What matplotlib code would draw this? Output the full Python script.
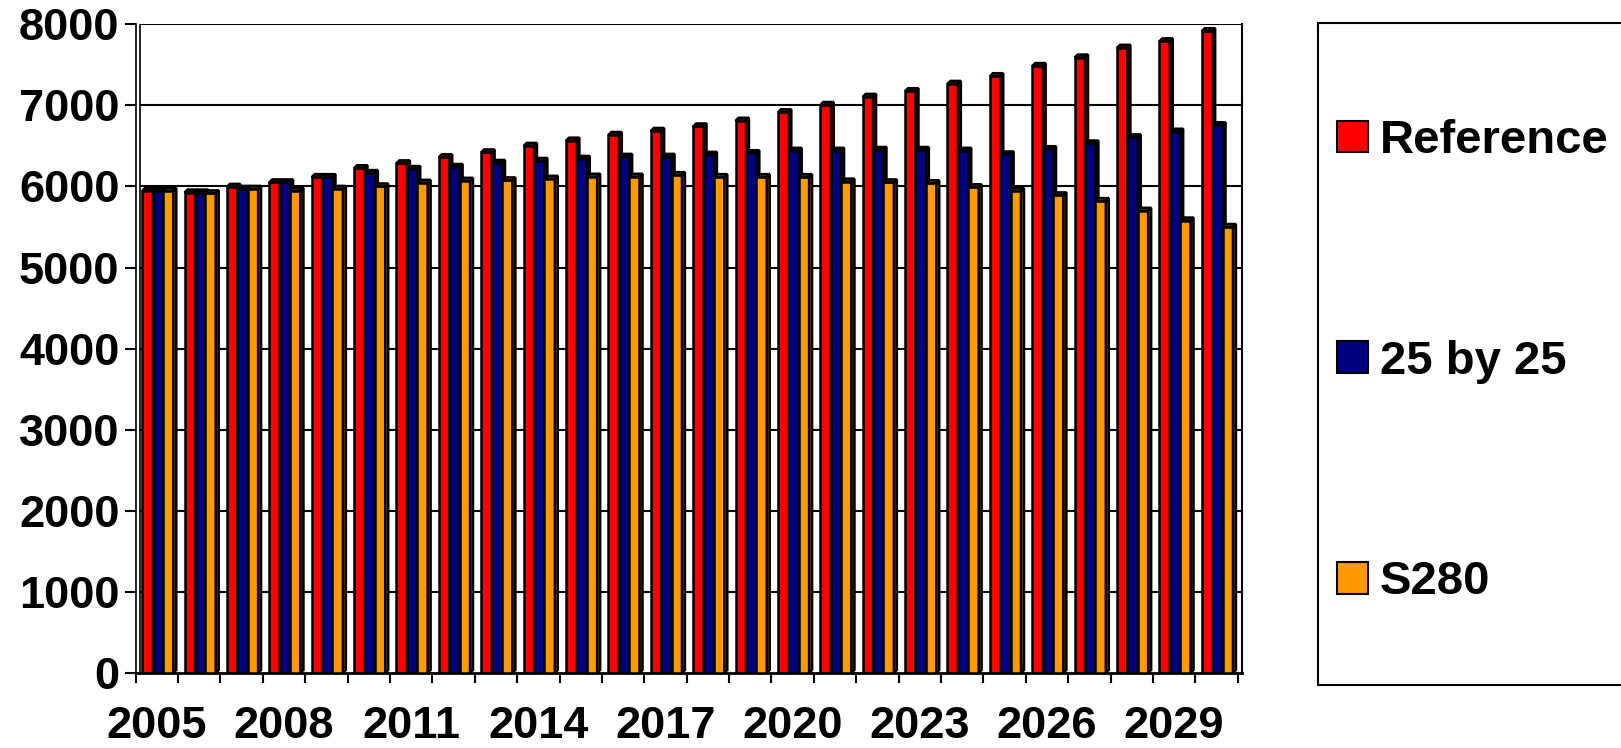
import numpy as np
import matplotlib.pyplot as plt
from matplotlib.patches import Polygon, Patch, Rectangle

plt.rcParams['font.family'] = ['Liberation Sans', 'DejaVu Sans']
plt.rcParams['font.weight'] = 'bold'

years = list(range(2005, 2031))
reference = [5945, 5925, 5995, 6050, 6115, 6225, 6285, 6360, 6420, 6500,
             6565, 6635, 6685, 6740, 6810, 6915, 7005, 7105, 7175, 7265,
             7360, 7485, 7590, 7710, 7790, 7915]
by25 = [5945, 5925, 5970, 6050, 6115, 6165, 6215, 6240, 6290, 6315,
        6340, 6365, 6365, 6390, 6410, 6440, 6440, 6450, 6450, 6440,
        6395, 6460, 6530, 6605, 6675, 6755]
s280 = [5945, 5915, 5970, 5945, 5970, 6000, 6045, 6070, 6075, 6095,
        6120, 6120, 6140, 6115, 6115, 6115, 6060, 6050, 6040, 5990,
        5945, 5890, 5820, 5700, 5580, 5500]
series_names = ['Reference', '25 by 25', 'S280']
front_colors = ['#FF0000', '#000080', '#FF9900']
shade_colors = ['#800000', '#000040', '#804C00']

W, H, DPI = 1621, 748, 100
fig = plt.figure(figsize=(W / DPI, H / DPI), dpi=DPI)

# plot area in pixels (left, bottom of 0 line, right wall, 8000 line)
px_left, px_right, px_zero, px_top = 135.7, 1241.7, 673, 24.3
group_px = (1237.7 - px_left) / len(years)
ax = fig.add_axes([px_left / W, (H - px_zero) / H,
                   (px_right - px_left) / W, (px_zero - px_top) / H])

n = len(years)
x = np.arange(n)
xmax = n - 0.5 + (px_right - 1237.7) / group_px
ax.set_xlim(-0.5, xmax)
ax.set_ylim(0, 8000)

# depth of the 3D look, in data units
ddx = 3 / group_px
ddy = 3 / ((px_zero - px_top) / 8000)
wall_dx = 4 / group_px

# back wall gridlines
for v in range(1000, 8001, 1000):
    ax.plot([-0.5 + wall_dx, xmax], [v, v], color='black', lw=1.5, zorder=0.5,
            solid_capstyle='butt')
ax.plot([-0.5 + wall_dx, -0.5 + wall_dx], [0, 8000], color='black', lw=1.2, zorder=0.5)

bw = 0.245
offsets = [-bw, 0, bw]
shift = 0.02
data = [reference, by25, s280]
for k, vals in enumerate(data):
    xs = x + offsets[k] + shift
    ax.bar(xs, vals, width=bw, color=front_colors[k], edgecolor='black',
           linewidth=1.8, zorder=2 + k)
    for xi, v in zip(xs, vals):
        x0, x1 = xi - bw / 2, xi + bw / 2
        side = Polygon([(x1, 0), (x1 + ddx, ddy), (x1 + ddx, v + ddy), (x1, v)],
                       closed=True, facecolor=shade_colors[k], edgecolor='black',
                       linewidth=1.8, zorder=2 + k)
        top = Polygon([(x0, v), (x1, v), (x1 + ddx, v + ddy), (x0 + ddx, v + ddy)],
                      closed=True, facecolor=shade_colors[k], edgecolor='black',
                      linewidth=1.8, zorder=2 + k)
        ax.add_patch(side)
        ax.add_patch(top)

ax.spines['top'].set_visible(False)
ax.spines['left'].set_linewidth(1.2)
ax.spines['right'].set_linewidth(1.5)
ax.spines['bottom'].set_linewidth(2)

ax.set_yticks(range(0, 8001, 1000))
ax.tick_params(axis='y', direction='out', length=7.7, width=1.5, pad=4,
               labelsize=32.5)
ax.set_xticks(x[::3])
ax.set_xticklabels([str(y) for y in years[::3]])
ax.set_xticks(np.arange(-0.5, n, 1.0), minor=True)
ax.tick_params(axis='x', which='major', length=0, pad=24, labelsize=32.5)
ax.tick_params(axis='x', which='minor', direction='out', length=7.2, width=1.5)

# legend
fig.patches.append(Rectangle((1318 / W, (H - 685) / H), 0.3, (685 - 23) / H,
                             transform=fig.transFigure, facecolor='white',
                             edgecolor='black', linewidth=1.5, zorder=0))
handles = [Patch(facecolor=c, edgecolor='black', linewidth=1.5) for c in front_colors]
fig.legend(handles, series_names, loc='upper left',
           bbox_to_anchor=(1337 / W, 1 - 119 / H), frameon=False, fontsize=34,
           borderpad=0, borderaxespad=0, handlelength=0.66, handleheight=0.66,
           handletextpad=0.25, labelspacing=3.74)

fig.savefig('out.png', dpi=DPI)
